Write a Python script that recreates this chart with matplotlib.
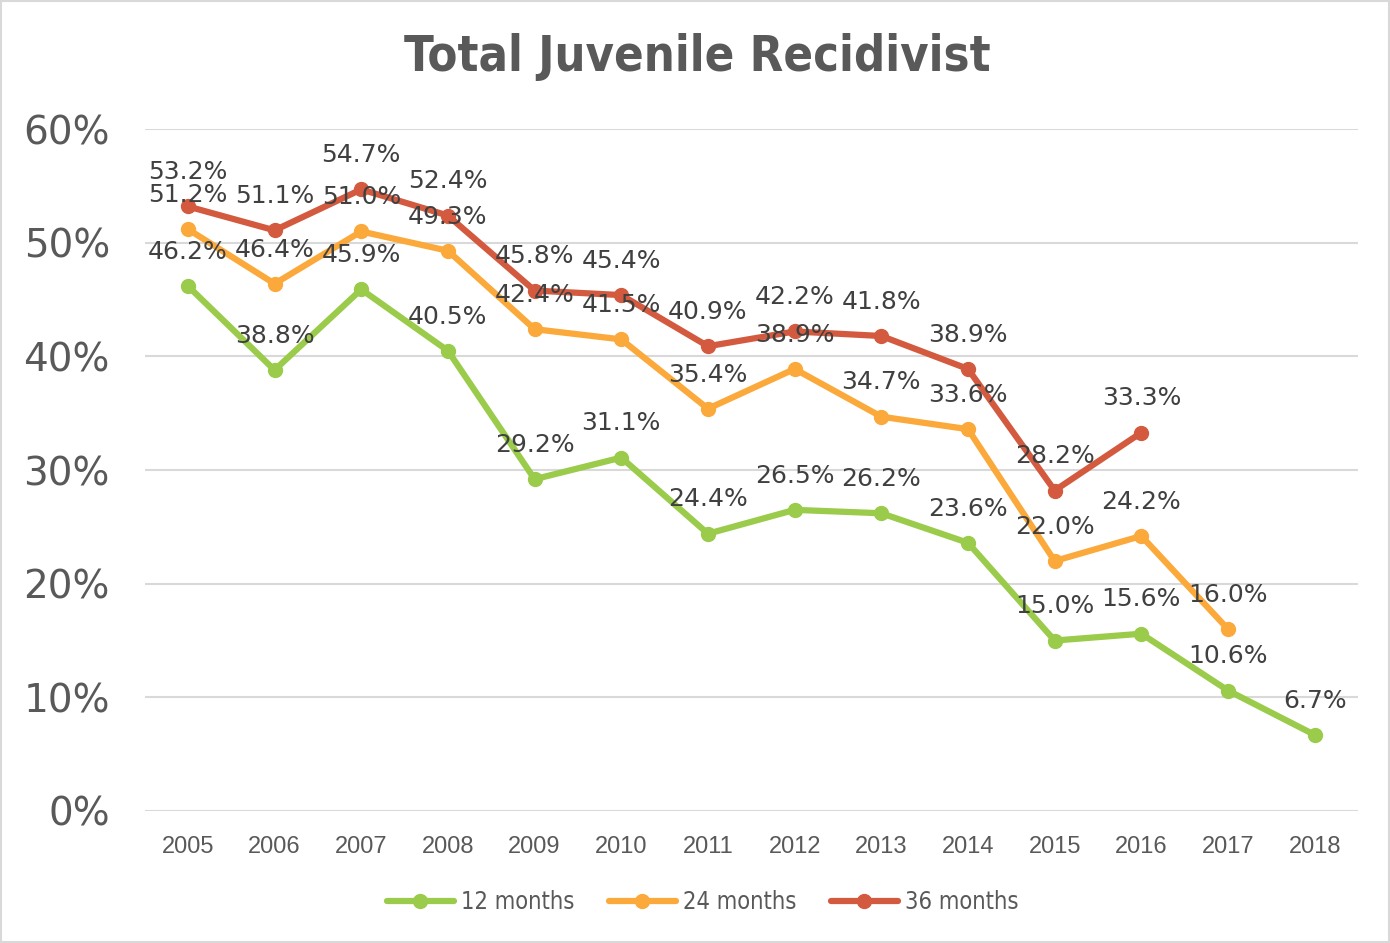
import matplotlib
matplotlib.use('Agg')
import matplotlib.pyplot as plt
from matplotlib.patches import Rectangle

years = ['2005', '2006', '2007', '2008', '2009', '2010', '2011',
         '2012', '2013', '2014', '2015', '2016', '2017', '2018']
months_12 = [46.2, 38.8, 45.9, 40.5, 29.2, 31.1, 24.4, 26.5, 26.2, 23.6, 15.0, 15.6, 10.6, 6.7]
months_24 = [51.2, 46.4, 51.0, 49.3, 42.4, 41.5, 35.4, 38.9, 34.7, 33.6, 22.0, 24.2, 16.0]
months_36 = [53.2, 51.1, 54.7, 52.4, 45.8, 45.4, 40.9, 42.2, 41.8, 38.9, 28.2, 33.3]
series_names = ['12 months', '24 months', '36 months']
colors = ['#9BCB4A', '#FBA93B', '#D35A3F']

label_font = 'DejaVu Sans'

fig = plt.figure(figsize=(13.9, 9.43), dpi=100)
ax = fig.add_axes([0.104, 0.140, 0.873, 0.723])

for vals, name, col in zip([months_12, months_24, months_36], series_names, colors):
    x = list(range(len(vals)))
    ax.plot(x, vals, color=col, lw=4.5, marker='o', ms=10, label=name,
            solid_capstyle='round', zorder=3)
    for xi, v in zip(x, vals):
        ax.annotate('{:.1f}%'.format(v), (xi, v), xytext=(0, 16), textcoords='offset points',
                    ha='center', va='bottom', fontsize=18, color='#404040',
                    family=label_font, annotation_clip=False, zorder=4)

ax.set_xlim(-0.5, len(years) - 0.5)
ax.set_ylim(0, 60)
ax.set_yticks(range(0, 61, 10))
ax.set_yticklabels(['{}%'.format(t) for t in range(0, 61, 10)], fontsize=28,
                   color='#595959', family=label_font)
ax.set_xticks(range(len(years)))
ax.set_xticklabels(years, fontsize=17, color='#595959', family='Liberation Sans')
ax.tick_params(axis='both', length=0)
ax.tick_params(axis='x', pad=18)
ax.tick_params(axis='y', pad=25)
ax.grid(axis='y', color='#D9D9D9', lw=1.5)
ax.set_axisbelow(True)
for s in ax.spines.values():
    s.set_visible(False)

fig.text(0.502, 0.94, 'Total Juvenile Recidivist', ha='center', va='center',
         fontsize=35, fontweight='bold', fontstretch='condensed', color='#595959',
         family='DejaVu Sans')

leg = ax.legend(loc='upper center', bbox_to_anchor=(0.46, -0.085), ncol=3, frameon=False,
                prop={'family': 'DejaVu Sans', 'size': 17, 'stretch': 'condensed'},
                handlelength=2.8, columnspacing=1.5, handletextpad=0.3)
for t in leg.get_texts():
    t.set_color('#595959')

fig.patches.append(Rectangle((0.001, 0.001), 0.998, 0.998, transform=fig.transFigure,
                             fill=False, edgecolor='#D9D9D9', lw=1.5))

fig.savefig('out.png', dpi=100)
